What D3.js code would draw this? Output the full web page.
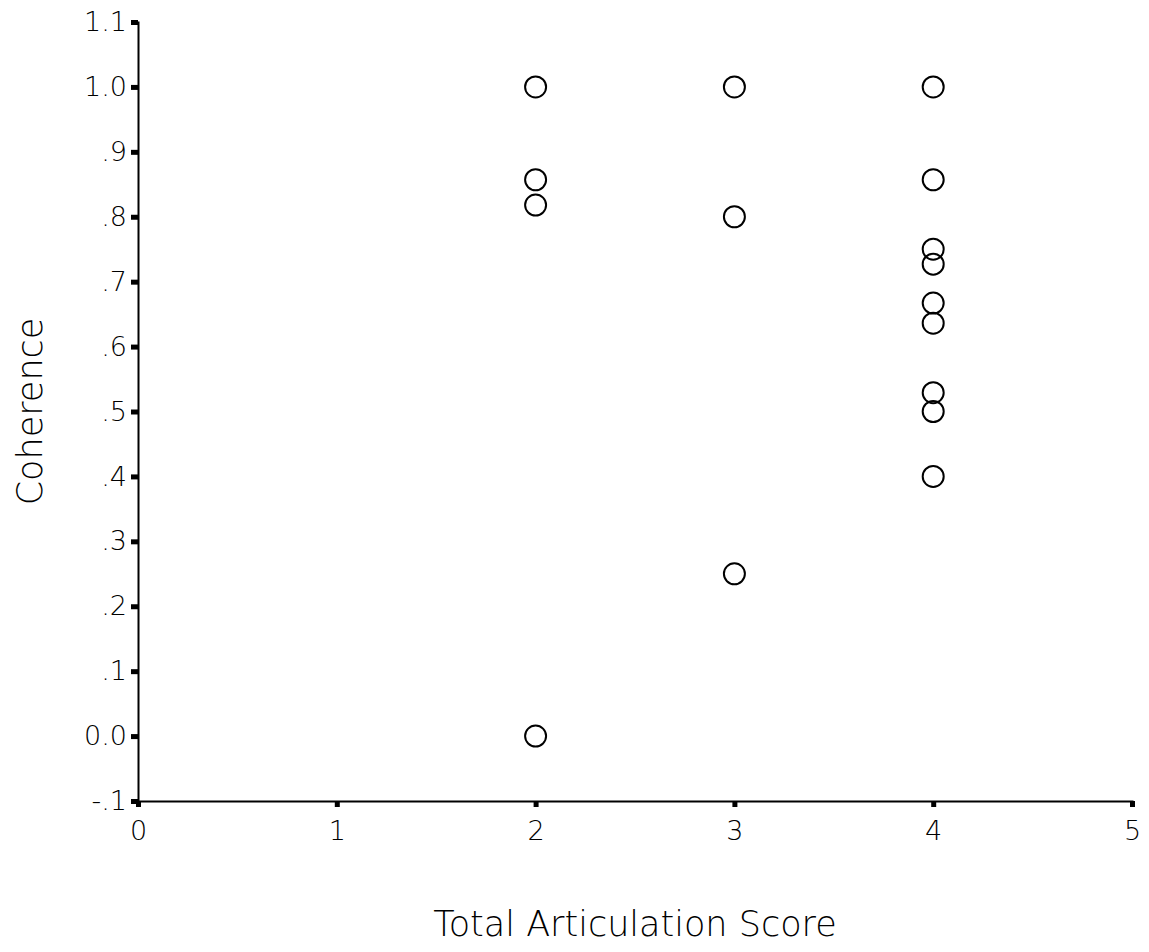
<!DOCTYPE html>
<html>
<head>
<meta charset="utf-8">
<script src="https://cdn.jsdelivr.net/npm/d3@7"></script>
<style>
  body { margin: 0; background: #fff; }
  text { font-family: "DejaVu Sans", sans-serif; fill: #000; }
</style>
</head>
<body>
<div id="container"></div>
<script>
/* CONSTANTS AND GLOBALS */
const width = 1149,
  height = 952,
  margin = { top: 22, bottom: 151, left: 138, right: 17 };

/* DATA */
const scores = [2, 2, 2, 2, 3, 3, 3, 4, 4, 4, 4, 4, 4, 4, 4, 4];
const coherence = [1.0, 0.857, 0.818, 0.0, 1.0, 0.8, 0.25, 1.0, 0.857, 0.75, 0.727, 0.667, 0.636, 0.529, 0.5, 0.4];
const xTicks = [0, 1, 2, 3, 4, 5];
const yTicks = [-0.1, 0.0, 0.1, 0.2, 0.3, 0.4, 0.5, 0.6, 0.7, 0.8, 0.9, 1.0, 1.1];
const yTickLabels = ["-.1", "0.0", ".1", ".2", ".3", ".4", ".5", ".6", ".7", ".8", ".9", "1.0", "1.1"];

const data = scores.map((s, i) => ({ score: s, coherence: coherence[i] }));

/* SCALES */
const xScale = d3.scaleLinear()
  .domain([0, 5])
  .range([margin.left, width - margin.right]);

const yScale = d3.scaleLinear()
  .domain([-0.1, 1.1])
  .range([height - margin.bottom, margin.top]);

const svg = d3.select("#container")
  .append("svg")
  .attr("width", width)
  .attr("height", height);

// axes
const xAxis = d3.axisBottom(xScale)
  .tickValues(xTicks)
  .tickFormat(d3.format("d"))
  .tickSizeOuter(0)
  .tickSize(6)
  .tickPadding(14);

const xg = svg.append("g")
  .attr("transform", `translate(0,${height - margin.bottom})`)
  .call(xAxis);

const yAxis = d3.axisLeft(yScale)
  .tickValues(yTicks)
  .tickFormat((d, i) => yTickLabels[i])
  .tickSizeOuter(0)
  .tickSize(7)
  .tickPadding(4);

const yg = svg.append("g")
  .attr("transform", `translate(${margin.left},0)`)
  .call(yAxis);

[xg, yg].forEach(g => {
  g.select(".domain").attr("stroke", "#000").attr("stroke-width", 2);
  g.selectAll(".tick line").attr("stroke", "#000").attr("stroke-width", 5);
  g.selectAll(".tick text")
    .attr("font-family", "DejaVu Sans, sans-serif")
    .attr("font-weight", 300)
    .attr("font-size", "27px")
    .attr("fill", "#111");
});

// points
svg.selectAll("circle")
  .data(data)
  .join("circle")
  .attr("cx", d => xScale(d.score))
  .attr("cy", d => yScale(d.coherence))
  .attr("r", 10.5)
  .attr("fill", "none")
  .attr("stroke", "#000")
  .attr("stroke-width", 2);

// axis titles
svg.append("text")
  .attr("x", (margin.left + width - margin.right) / 2)
  .attr("y", 936)
  .attr("text-anchor", "middle")
  .attr("font-size", "35px")
  .attr("font-weight", 300)
  .attr("fill", "#111")
  .text("Total Articulation Score");

svg.append("text")
  .attr("transform", `translate(42,${(margin.top + height - margin.bottom) / 2}) rotate(-90)`)
  .attr("text-anchor", "middle")
  .attr("font-size", "35px")
  .attr("font-weight", 300)
  .attr("fill", "#111")
  .text("Coherence");
</script>
</body>
</html>
